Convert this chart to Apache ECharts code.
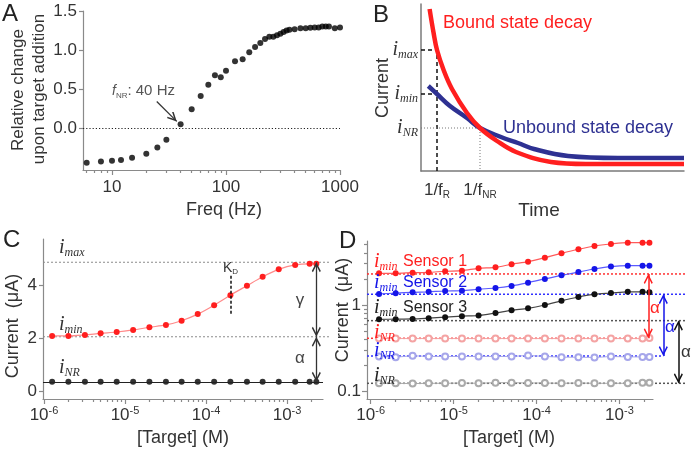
<!DOCTYPE html>
<html>
<head>
<meta charset="utf-8">
<script src="https://cdn.jsdelivr.net/npm/echarts@6.0.0/dist/echarts.min.js"></script>
<style>
html,body{margin:0;padding:0;background:#ffffff;}
#chart{width:692px;height:450px;}
</style>
</head>
<body>
<div id="chart"></div>
<script>
// ======================= DATA =======================
// Panel A : relative change upon target addition vs frequency
const freqA = [6,8,10,12,15,20,25,30,40,50,60,70,80,90,100,120,140,160,180,200,220,240,260,280,300,320,340,360,400,450,500,550,600,650,700,750,800,900,1000];
const relChangeA = [-0.445,-0.43,-0.42,-0.41,-0.38,-0.33,-0.25,-0.15,0.05,0.24,0.41,0.555,0.675,0.65,0.735,0.855,0.88,0.97,1.04,1.09,1.14,1.17,1.17,1.19,1.21,1.23,1.25,1.26,1.265,1.28,1.28,1.285,1.29,1.29,1.30,1.30,1.30,1.28,1.29];
const freqTicksA = [10,100,1000];
const freqMinorTicksA = [6,7,8,9,20,30,40,50,60,70,80,90,200,300,400,500,600,700,800,900];
const relTicksA = [0,0.5,1,1.5];
const fNRArrowA = [[24.7,0.34],[37,0.085]];

// Panel B : schematic current decays (arbitrary units)
const boundDecayB = [[8.6,162],[12.6,138],[16,121],[22.6,101],[31,82],[46,58],[59,43],[76,30],[95,19],[130,9],[165,7],[263,7]];
const unboundDecayB = [[7.3,85],[16,77],[29,65],[46,53],[59,43],[80,34],[97,28],[113,22],[147,15],[197,13],[263,13]];
const timeMarksB = [16,59];          // 1/fR , 1/fNR
const currentMarksB = [43,77,121];   // iNR , imin , imax

// Panel C
const concentrations = [1.26e-6,2e-6,3.2e-6,5e-6,7.9e-6,1.26e-5,2e-5,3.2e-5,5e-5,7.9e-5,1.26e-4,2e-4,3.2e-4,5e-4,7.9e-4,1.26e-3,1.9e-3,2.3e-3];
const currentC = [2.09,2.09,2.13,2.19,2.24,2.32,2.42,2.51,2.67,2.92,3.26,3.64,4.00,4.34,4.62,4.79,4.83,4.83];
const nrCurrentC = [0.35,0.35,0.35,0.35,0.35,0.35,0.35,0.35,0.35,0.35,0.35,0.35,0.35,0.35,0.35,0.35,0.35,0.35];
const levelsC = [4.89,2.06,0.35];     // imax , imin , iNR
const kdC = [2e-4,4.38,2.92];         // KD concentration, dashed marker top / bottom
const currentTicksC = [0,2,4];

// Panel D
const sensor1D = [2.32,2.32,2.36,2.38,2.45,2.49,2.65,2.72,2.95,3.16,3.51,3.94,4.39,4.79,5.05,5.23,5.23,5.23];
const sensor2D = [1.34,1.37,1.40,1.42,1.45,1.46,1.52,1.57,1.66,1.81,2.0,2.20,2.40,2.60,2.77,2.84,2.84,2.84];
const sensor3D = [0.684,0.686,0.69,0.705,0.723,0.743,0.757,0.809,0.869,0.916,1.0,1.117,1.236,1.333,1.375,1.42,1.42,1.40];
const nr1D = [0.41,0.41,0.41,0.41,0.41,0.41,0.41,0.41,0.41,0.41,0.41,0.41,0.41,0.41,0.41,0.41,0.41,0.415];
const nr2D = [0.255,0.25,0.26,0.255,0.255,0.255,0.255,0.255,0.255,0.262,0.255,0.25,0.25,0.248,0.255,0.252,0.252,0.252];
const nr3D = [0.125,0.125,0.124,0.125,0.125,0.126,0.125,0.127,0.127,0.126,0.126,0.125,0.126,0.125,0.125,0.125,0.127,0.127];
const iminLevelsD = [2.28,1.33,0.66];
const nrLevelsD = [0.413,0.258,0.125];
const arrowPosD = [0.879,0.926,0.973];   // fraction of the extended panel width
const currentTicksD = [0.1,1];
const currentMinorTicksD = [0.2,0.3,0.4,0.5,0.6,0.7,0.8,0.9,2,3,4,5];

const targetTicks = [1e-6,1e-5,1e-4,1e-3];
const targetMinorTicks = [2e-6,3e-6,4e-6,5e-6,6e-6,7e-6,8e-6,9e-6,2e-5,3e-5,4e-5,5e-5,6e-5,7e-5,8e-5,9e-5,2e-4,3e-4,4e-4,5e-4,6e-4,7e-4,8e-4,9e-4,2e-3];

// ======================= STYLE =======================
const SANS = 'Liberation Sans';
const SERIF = 'Liberation Serif';
const AX = '#8a8a8a';
const LAB = '#333333';
const RED = '#ff1f1f';
const BLUE = '#1515e8';
const NAVY = '#2e3192';
// chevron arrow head whose tip is at the symbol centre
const CHEV = 'path://M5,0 L10,9 L8.8,10.2 L5,3.4 L1.2,10.2 L0,9 Z M5,-10.2';

function zip(xs, ys){ return xs.map((x,i)=>[x, ys[i]]); }

function majorAxisLine(){ return {show:true, onZero:false, lineStyle:{color:AX, width:1.2}}; }
function hiddenLine(){ return {show:false, onZero:false}; }
function ticks(vals, len){ return {show:true, length:len, customValues:vals, lineStyle:{color:AX, width:1.2}}; }
const powRich = {
  b:{fontFamily:SANS, fontSize:17, color:LAB, lineHeight:20},
  e:{fontFamily:SANS, fontSize:11, color:LAB, lineHeight:9, verticalAlign:'top'}
};
function powLabel(v){ return '{b|10}{e|' + Math.round(Math.log10(v)) + '}'; }

// ======================= AXES =======================
const grids = [
  {left:83, top:11, width:257, height:159},    // 0 A
  {left:421, top:4, width:263, height:167},    // 1 B
  {left:43, top:239, width:280, height:160},   // 2 C
  {left:43, top:239, width:287, height:160},   // 3 C overlay (reference lines)
  {left:367, top:241, width:286, height:158},  // 4 D
  {left:367, top:241, width:320, height:158}   // 5 D overlay (reference lines)
].map(g=>Object.assign({containLabel:false, outerBoundsMode:'none'}, g));

const A_X = [5.57, 1000], A_Y = [-0.538, 1.5];
const C_X = [0.972e-6, 2.78e-3], C_Y = [-0.304, 5.773];
const D_X = [0.902e-6, 2.54e-3], D_Y = [0.0824, 5.47];

const xAxes = [
  // 0 A major
  {type:'log', gridIndex:0, position:'bottom', min:A_X[0], max:A_X[1], axisLine:majorAxisLine(), axisTick:ticks(freqTicksA,5),
   axisLabel:{customValues:freqTicksA, margin:9, fontFamily:SANS, fontSize:17, color:LAB, formatter:v=>String(Math.round(v))}, splitLine:{show:false}},
  // 1 A minor
  {type:'log', gridIndex:0, position:'bottom', offset:0, min:A_X[0], max:A_X[1], axisLine:hiddenLine(), axisTick:ticks(freqMinorTicksA,3), axisLabel:{show:false}, splitLine:{show:false}},
  // 2 B
  {type:'value', gridIndex:1, position:'bottom', min:0, max:263, axisLine:{show:true,onZero:false,lineStyle:{color:'#7a7a7a',width:1.5}}, axisTick:{show:false},
   axisLabel:{customValues:timeMarksB, margin:9, color:LAB,
     formatter:v=> v===timeMarksB[0] ? '{a|1/f}{s|R}' : '{a|1/f}{s|NR}',
     rich:{a:{fontFamily:SANS,fontSize:17,color:LAB,lineHeight:20}, s:{fontFamily:SANS,fontSize:10,color:LAB,lineHeight:7,verticalAlign:'bottom'}}},
   splitLine:{show:false}},
  // 3 C major
  {type:'log', gridIndex:2, position:'bottom', min:C_X[0], max:C_X[1], axisLine:majorAxisLine(), axisTick:ticks(targetTicks,5),
   axisLabel:{customValues:targetTicks, margin:6, formatter:powLabel, rich:powRich}, splitLine:{show:false}},
  // 4 C minor
  {type:'log', gridIndex:2, position:'bottom', offset:0, min:C_X[0], max:C_X[1], axisLine:hiddenLine(), axisTick:ticks(targetMinorTicks,3), axisLabel:{show:false}, splitLine:{show:false}},
  // 5 C overlay
  {type:'value', gridIndex:3, min:0, max:1, show:false},
  // 6 D major
  {type:'log', gridIndex:4, position:'bottom', min:D_X[0], max:D_X[1], axisLine:majorAxisLine(), axisTick:ticks(targetTicks,5),
   axisLabel:{customValues:targetTicks, margin:6, formatter:powLabel, rich:powRich}, splitLine:{show:false}},
  // 7 D minor
  {type:'log', gridIndex:4, position:'bottom', offset:0, min:D_X[0], max:D_X[1], axisLine:hiddenLine(), axisTick:ticks(targetMinorTicks,3), axisLabel:{show:false}, splitLine:{show:false}},
  // 8 D overlay
  {type:'value', gridIndex:5, min:0, max:1, show:false}
];

const yAxes = [
  // 0 A
  {type:'value', gridIndex:0, position:'left', min:A_Y[0], max:A_Y[1], axisLine:majorAxisLine(), axisTick:ticks(relTicksA,4),
   axisLabel:{customValues:relTicksA, margin:6, fontFamily:SANS, fontSize:17, color:LAB, formatter:v=>v.toFixed(1)}, splitLine:{show:false}},
  // 1 B
  {type:'value', gridIndex:1, position:'left', min:0, max:167, axisLine:{show:true,onZero:false,lineStyle:{color:'#7a7a7a',width:1.5}}, axisTick:{show:false},
   axisLabel:{customValues:currentMarksB, margin:3,
     formatter:v=> v===currentMarksB[0] ? '{i|i}{s|NR}' : (v===currentMarksB[1] ? '{i|i}{s|min}' : '{i|i}{s|max}'),
     rich:{i:{fontFamily:SERIF,fontStyle:'italic',fontSize:20,color:LAB,lineHeight:22},
           s:{fontFamily:SERIF,fontStyle:'italic',fontSize:12,color:LAB,lineHeight:8,verticalAlign:'bottom'}}},
   splitLine:{show:false}},
  // 2 C
  {type:'value', gridIndex:2, position:'left', min:C_Y[0], max:C_Y[1], axisLine:majorAxisLine(), axisTick:ticks(currentTicksC,4),
   axisLabel:{customValues:currentTicksC, margin:6, fontFamily:SANS, fontSize:17, color:LAB}, splitLine:{show:false}},
  // 3 C overlay
  {type:'value', gridIndex:3, min:C_Y[0], max:C_Y[1], show:false},
  // 4 D major
  {type:'log', gridIndex:4, position:'left', min:D_Y[0], max:D_Y[1], axisLine:majorAxisLine(), axisTick:ticks(currentTicksD,5),
   axisLabel:{customValues:currentTicksD, margin:6, fontFamily:SANS, fontSize:17, color:LAB, formatter:v=>String(v)}, splitLine:{show:false}},
  // 5 D minor
  {type:'log', gridIndex:4, position:'left', offset:0, min:D_Y[0], max:D_Y[1], axisLine:hiddenLine(), axisTick:ticks(currentMinorTicksD,3), axisLabel:{show:false}, splitLine:{show:false}},
  // 6 D overlay
  {type:'log', gridIndex:5, min:D_Y[0], max:D_Y[1], show:false}
];

// ======================= SERIES =======================
function refLine(xi, yi, pts, color, type, width){
  return {type:'line', xAxisIndex:xi, yAxisIndex:yi, data:pts, symbol:'none', silent:true, animation:false,
          lineStyle:{color:color, type:type, width:width}, z:1};
}
function arrowMark(p0, p1, color, both){
  return [{coord:p0, symbol: both ? CHEV : 'none', symbolSize:[9,20]},
          {coord:p1, symbol:CHEV, symbolSize:[9,20], lineStyle:{color:color}}];
}

const series = [];

// ---- A ----
series.push({type:'scatter', xAxisIndex:0, yAxisIndex:0, data:zip(freqA, relChangeA), symbol:'circle', symbolSize:6,
  itemStyle:{color:'#000'}, silent:true, z:3,
  markLine:{silent:true, animation:false, label:{show:false}, symbol:'none',
    lineStyle:{color:'#222', type:[1.2,2], width:1},
    data:[ [{coord:[A_X[0],0]},{coord:[A_X[1],0]}] ]}});
series.push({type:'line', xAxisIndex:0, yAxisIndex:0, data:[], silent:true,
  markLine:{silent:true, animation:false, label:{show:false}, lineStyle:{color:'#333', type:'solid', width:1.3},
    data:[ arrowMark(fNRArrowA[0], fNRArrowA[1], '#333', false) ]}});

// ---- B ----
series.push(refLine(2,1,[[0,currentMarksB[2]],[timeMarksB[0],currentMarksB[2]],[timeMarksB[0],0]],'#111',[4,3],1.5));
series.push(refLine(2,1,[[0,currentMarksB[1]],[timeMarksB[0],currentMarksB[1]]],'#111',[4,3],1.5));
series.push(refLine(2,1,[[0,currentMarksB[0]],[timeMarksB[1],currentMarksB[0]],[timeMarksB[1],0]],'#777',[1,2],1));
series.push({type:'line', xAxisIndex:2, yAxisIndex:1, data:unboundDecayB, smooth:0.4, symbol:'none', silent:true,
  lineStyle:{color:NAVY, width:4.5}, z:3});
series.push({type:'line', xAxisIndex:2, yAxisIndex:1, data:boundDecayB, smooth:0.4, symbol:'none', silent:true,
  lineStyle:{color:RED, width:4.5}, z:4});

// ---- C ----
series.push(refLine(5,3,[[0,levelsC[0]],[1,levelsC[0]]],'#8c8c8c',[2,2],1));
series.push(refLine(5,3,[[0,levelsC[1]],[1,levelsC[1]]],'#8c8c8c',[2,2],1));
series.push({type:'scatter', xAxisIndex:3, yAxisIndex:2, data:zip(concentrations, nrCurrentC), symbol:'circle', symbolSize:6,
  itemStyle:{color:'#000'}, silent:true, z:3,
  markLine:{silent:true, animation:false, label:{show:false}, symbol:'none', lineStyle:{color:'#222', type:'solid', width:1},
    data:[ [{coord:[C_X[0],levelsC[2]]},{coord:[C_X[1],levelsC[2]]}] ]}});
series.push({type:'line', xAxisIndex:3, yAxisIndex:2, data:zip(concentrations, currentC), smooth:0.3, symbol:'circle', symbolSize:6,
  itemStyle:{color:RED}, lineStyle:{color:'#ff8a8a', width:1.2}, silent:true, z:3,
  markLine:{silent:true, animation:false, label:{show:false}, symbol:'none', lineStyle:{color:'#111', type:[3,2], width:1.5},
    data:[ [{coord:[kdC[0],kdC[1]]},{coord:[kdC[0],kdC[2]]}] ]}});
series.push({type:'line', xAxisIndex:3, yAxisIndex:2, data:[], silent:true,
  markLine:{silent:true, animation:false, label:{show:false}, lineStyle:{color:'#333', type:'solid', width:1.3},
    data:[ arrowMark([concentrations[17],levelsC[0]],[concentrations[17],levelsC[1]],'#333',true),
           arrowMark([concentrations[17],levelsC[1]],[concentrations[17],levelsC[2]],'#333',true) ]}});

// ---- D ----
const dColors = [RED, BLUE, '#111'];
const dLine = ['#ff5a5a', '#5a5aff', '#444'];
const dNR = ['#f4a3a3', '#a6a6ea', '#aaaaaa'];
const dDotted = ['#ff3030', '#3030ff', '#555'];
const nrEnds = [arrowPosD[0], arrowPosD[1], 1];
for (let k=0;k<3;k++){
  series.push(refLine(8,6,[[0,iminLevelsD[k]],[1,iminLevelsD[k]]],dDotted[k],[2,2],1.5));
  series.push(refLine(8,6,[[0,nrLevelsD[k]],[nrEnds[k],nrLevelsD[k]]],dDotted[k],[2,2],1.5));
}
[nr1D, nr2D, nr3D].forEach((arr,k)=>{
  series.push({type:'line', xAxisIndex:6, yAxisIndex:4, data:zip(concentrations, arr), symbol:'emptyCircle', symbolSize:6,
    itemStyle:{color:dNR[k], borderWidth:1}, lineStyle:{color:dNR[k], width:1}, silent:true, z:2});
});
[sensor1D, sensor2D, sensor3D].forEach((arr,k)=>{
  series.push({type:'line', xAxisIndex:6, yAxisIndex:4, data:zip(concentrations, arr), smooth:0.3, symbol:'circle', symbolSize:6,
    itemStyle:{color:dColors[k]}, lineStyle:{color:dLine[k], width:1.2}, silent:true, z:3});
});
series.push({type:'line', xAxisIndex:8, yAxisIndex:6, data:[], silent:true,
  markLine:{silent:true, animation:false, label:{show:false}, lineStyle:{type:'solid', width:1.5},
    data:[0,1,2].map(k=>{
      const m = arrowMark([arrowPosD[k], iminLevelsD[k]],[arrowPosD[k], nrLevelsD[k]], dColors[k], true);
      m[0].lineStyle = {color:dColors[k], width:1.5, type:'solid'};
      return m;
    })}});

// ======================= TEXT =======================
function T(x, y, text, o){
  o = o || {};
  const st = {text:text, fill:o.color||'#222', fontFamily:o.family||SANS, fontSize:o.size||18,
              fontStyle:o.style||'normal', align:o.align||'left', verticalAlign:'middle'};
  if (o.rich) st.rich = o.rich;
  return {type:'text', x:x, y:y, rotation:o.rot||0, silent:true, z:100, style:st};
}
function iRich(color){
  return {i:{fontFamily:SERIF, fontStyle:'italic', fontSize:20, fill:color, lineHeight:22},
          s:{fontFamily:SERIF, fontStyle:'italic', fontSize:12, fill:color, lineHeight:8, verticalAlign:'bottom'}};
}
const ROT = Math.PI/2;
const graphic = [
  T(2,14,'A',{size:24}), T(373,15,'B',{size:24}), T(3,240,'C',{size:24}), T(339,241,'D',{size:24}),
  // A
  T(18,90,'Relative change',{rot:ROT, align:'center', size:17, color:'#333'}),
  T(39,89,'upon target addition',{rot:ROT, align:'center', size:17, color:'#333'}),
  T(224,210,'Freq (Hz)',{align:'center', size:18, color:'#333'}),
  T(112,91,'{f|f}{n|NR}{t|: 40 Hz}',{rich:{
     f:{fontFamily:SANS, fontStyle:'italic', fontSize:14, fill:'#555', lineHeight:18},
     n:{fontFamily:SANS, fontSize:8, fill:'#555', lineHeight:6, verticalAlign:'bottom'},
     t:{fontFamily:SANS, fontSize:15, fill:'#555', lineHeight:18}}}),
  // B
  T(383,88,'Current',{rot:ROT, align:'center', size:18, color:'#333'}),
  T(539,211,'Time',{align:'center', size:19, color:'#333'}),
  T(443,23,'Bound state decay',{size:18, color:RED}),
  T(503,128,'Unbound state decay',{size:18, color:NAVY}),
  // C
  T(13,326,'Current  (\u03bcA)',{rot:ROT, align:'center', size:18, color:'#333'}),
  T(183,438,'[Target] (M)',{align:'center', size:18, color:'#333'}),
  T(59,248,'{i|i}{s|max}',{rich:iRich('#333')}),
  T(59,325,'{i|i}{s|min}',{rich:iRich('#333')}),
  T(59,368,'{i|i}{s|NR}',{rich:iRich('#333')}),
  T(223,268,'{k|K}{d|D}',{rich:{k:{fontFamily:SANS,fontSize:14,fill:'#333',lineHeight:16},
                                 d:{fontFamily:SANS,fontSize:8,fill:'#333',lineHeight:6,verticalAlign:'bottom'}}}),
  T(300,300,'\u03b3',{align:'center', size:17, color:'#444'}),
  T(300,358,'\u03b1',{align:'center', size:17, color:'#444'}),
  // D
  T(343,310,'Current  (\u03bcA)',{rot:ROT, align:'center', size:18, color:'#333'}),
  T(509,438,'[Target] (M)',{align:'center', size:18, color:'#333'}),
  T(374,262,'{i|i}{s|min}',{rich:iRich(RED)}),
  T(403,262,'Sensor 1',{size:16, color:RED}),
  T(374,283,'{i|i}{s|min}',{rich:iRich(BLUE)}),
  T(403,283,'Sensor 2',{size:16, color:BLUE}),
  T(374,308,'{i|i}{s|min}',{rich:iRich('#222')}),
  T(403,308,'Sensor 3',{size:16, color:'#222'}),
  T(374,333,'{i|i}{s|NR}',{rich:iRich(RED)}),
  T(374,351,'{i|i}{s|NR}',{rich:iRich(BLUE)}),
  T(374,376,'{i|i}{s|NR}',{rich:iRich('#222')}),
  T(655,308,'\u03b1',{align:'center', size:17, color:RED}),
  T(670,327,'\u03b1',{align:'center', size:17, color:BLUE}),
  T(686,352,'\u03b1',{align:'center', size:17, color:'#333'})
];

const chart = echarts.init(document.getElementById('chart'), null, {renderer:'canvas', width:692, height:450});
chart.setOption({
  animation:false,
  backgroundColor:'#ffffff',
  textStyle:{fontFamily:SANS},
  grid:grids, xAxis:xAxes, yAxis:yAxes, series:series, graphic:graphic
});
</script>
</body>
</html>
